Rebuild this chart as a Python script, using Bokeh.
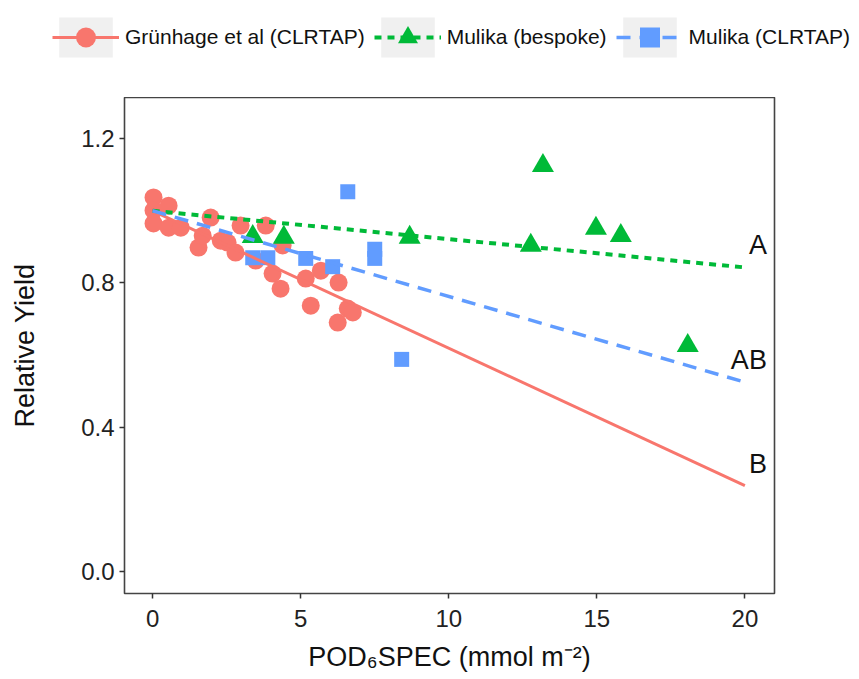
import numpy as np
from bokeh.plotting import figure
from bokeh.layouts import column
from bokeh.models import (Legend, LegendItem, FixedTicker, PrintfTickFormatter,
                          Range1d, ColumnDataSource)
from bokeh.embed import file_html
from bokeh.resources import INLINE
from bokeh.core.properties import value

# ---------------- data ----------------
# Grünhage et al (CLRTAP)
gr_x = [0.03, 0.03, 0.03, 0.54, 0.54, 0.95, 1.55, 1.69, 1.96, 2.30, 2.53, 2.80,
        2.97, 3.82, 3.48, 4.05, 4.32, 4.39, 5.17, 5.34, 5.68, 6.28, 6.25, 6.59, 6.76]
gr_y = [1.037, 1.001, 0.965, 1.014, 0.953, 0.953, 0.898, 0.931, 0.981, 0.917, 0.912, 0.884,
        0.959, 0.959, 0.862, 0.826, 0.784, 0.904, 0.812, 0.737, 0.834, 0.801, 0.690, 0.729, 0.718]
# Mulika (bespoke)
bes_x = [3.38, 4.43, 8.68, 12.77, 13.18, 14.97, 15.81, 18.07]
bes_y = [0.928, 0.926, 0.926, 0.904, 1.125, 0.951, 0.931, 0.626]
# Mulika (CLRTAP)
cl_x = [3.38, 3.89, 5.17, 6.08, 6.59, 7.50, 7.50, 8.41]
cl_y = [0.870, 0.870, 0.868, 0.845, 1.053, 0.893, 0.868, 0.588]

# fitted lines
fit_x = [0, 20]
gr_fit = [1.0, 0.238]
bes_fit = [1.0, 0.843]
cl_fit = [1.0, 0.525]

series_names = ["Grünhage et al (CLRTAP)", "Mulika (bespoke)", "Mulika (CLRTAP)"]
group_labels = ["A", "AB", "B"]          # for bespoke, CLRTAP(Mulika), Grünhage

x_ticks = [0, 5, 10, 15, 20]
y_ticks = [0.0, 0.4, 0.8, 1.2]

RED, GREEN, BLUE = "#F8766D", "#00BA38", "#619CFF"
FONT = "Liberation Sans"

styles = [
    dict(color=RED, marker="circle", msize=18, lw=3, dash="solid"),
    dict(color=GREEN, marker="triangle", msize=22, lw=4, dash="7 6"),
    dict(color=BLUE, marker="square", msize=15, lw=3.5, dash="14 9"),
]

# ---------------- main plot ----------------
p = figure(width=859, height=582, output_backend="svg", toolbar_location=None,
           x_range=Range1d(-0.95, 21.0), y_range=Range1d(-0.061, 1.314),
           min_border_left=124, min_border_right=85, min_border_top=0,
           min_border_bottom=86)
p.background_fill_color = "white"
p.border_fill_color = "white"
p.grid.visible = False
p.outline_line_color = "#444444"
p.outline_line_width = 1.6

for ax in (p.xaxis[0], p.yaxis[0]):
    ax.axis_line_color = None
    ax.major_tick_line_color = "#333333"
    ax.major_tick_line_width = 1.5
    ax.major_tick_out = 5
    ax.major_tick_in = 0
    ax.minor_tick_line_color = None
    ax.major_label_text_font = FONT
    ax.major_label_text_font_size = "24px"
    ax.major_label_text_color = "#222222"
    ax.major_label_standoff = 5
    ax.axis_label_text_font = FONT
    ax.axis_label_text_font_size = "27px"
    ax.axis_label_text_font_style = "normal"
    ax.axis_label_text_color = "#111111"

p.xaxis.ticker = FixedTicker(ticks=x_ticks)
p.yaxis.ticker = FixedTicker(ticks=y_ticks)
p.yaxis.formatter = PrintfTickFormatter(format="%.1f")
p.xaxis.major_label_standoff = 11
p.xaxis.axis_label = "POD₆SPEC (mmol m⁻²)"
p.yaxis.axis_label = "Relative Yield"
p.xaxis.axis_label_standoff = 12
p.yaxis.axis_label_standoff = 38

xs = [gr_x, bes_x, cl_x]
ys = [gr_y, bes_y, cl_y]
fits = [gr_fit, bes_fit, cl_fit]

for x, y, st in zip(xs, ys, styles):
    p.scatter(x, y, marker=st["marker"], size=st["msize"], fill_color=st["color"], line_color=None)
for f, st in zip(fits, styles):
    p.line(fit_x, f, line_color=st["color"], line_width=st["lw"], line_dash=st["dash"])

# group letters at line ends
lab_src = ColumnDataSource(dict(
    x=[fit_x[-1]] * 3,
    y=[bes_fit[-1], cl_fit[-1], gr_fit[-1]],
    text=group_labels))
p.text(x="x", y="y", text="text", source=lab_src, x_offset=22, y_offset=-22,
       text_align="right", text_baseline="middle", text_font=value(FONT),
       text_font_size="27px", text_color="#111111")

# ---------------- legend strip ----------------
lf = figure(width=859, height=97, output_backend="svg", toolbar_location=None,
            x_range=Range1d(0, 1), y_range=Range1d(0, 1),
            x_axis_type=None, y_axis_type=None,
            min_border_left=0, min_border_right=0, min_border_top=0, min_border_bottom=0)
lf.grid.visible = False
lf.outline_line_color = None
lf.background_fill_color = "white"
lf.border_fill_color = "white"

items = []
for name, st in zip(series_names, styles):
    bg = lf.quad(left=[np.nan], right=[np.nan], top=[np.nan], bottom=[np.nan],
                 fill_color="#F0F0F0", line_color=None)
    ln = lf.line([np.nan], [np.nan], line_color=st["color"], line_width=st["lw"],
                 line_dash=st["dash"])
    mk = lf.scatter([np.nan], [np.nan], marker=st["marker"], size=st["msize"],
                    fill_color=st["color"], line_color=None)
    items.append(LegendItem(label=name, renderers=[bg, ln, mk]))

legend = Legend(items=items, orientation="horizontal", location=(52, 35),
                glyph_width=67, glyph_height=50, label_standoff=6, spacing=9,
                padding=0, margin=0, border_line_color=None, background_fill_alpha=0,
                label_text_font=FONT, label_text_font_size="21px",
                label_text_color="#111111")
lf.add_layout(legend, "center")

# do not align the legend strip's frame with the main plot's frame
for f in (lf, p):
    if "frame_align" in f.properties():
        f.frame_align = False

layout = column(lf, p, spacing=0)
open("out.html", "w").write(file_html(layout, INLINE))
